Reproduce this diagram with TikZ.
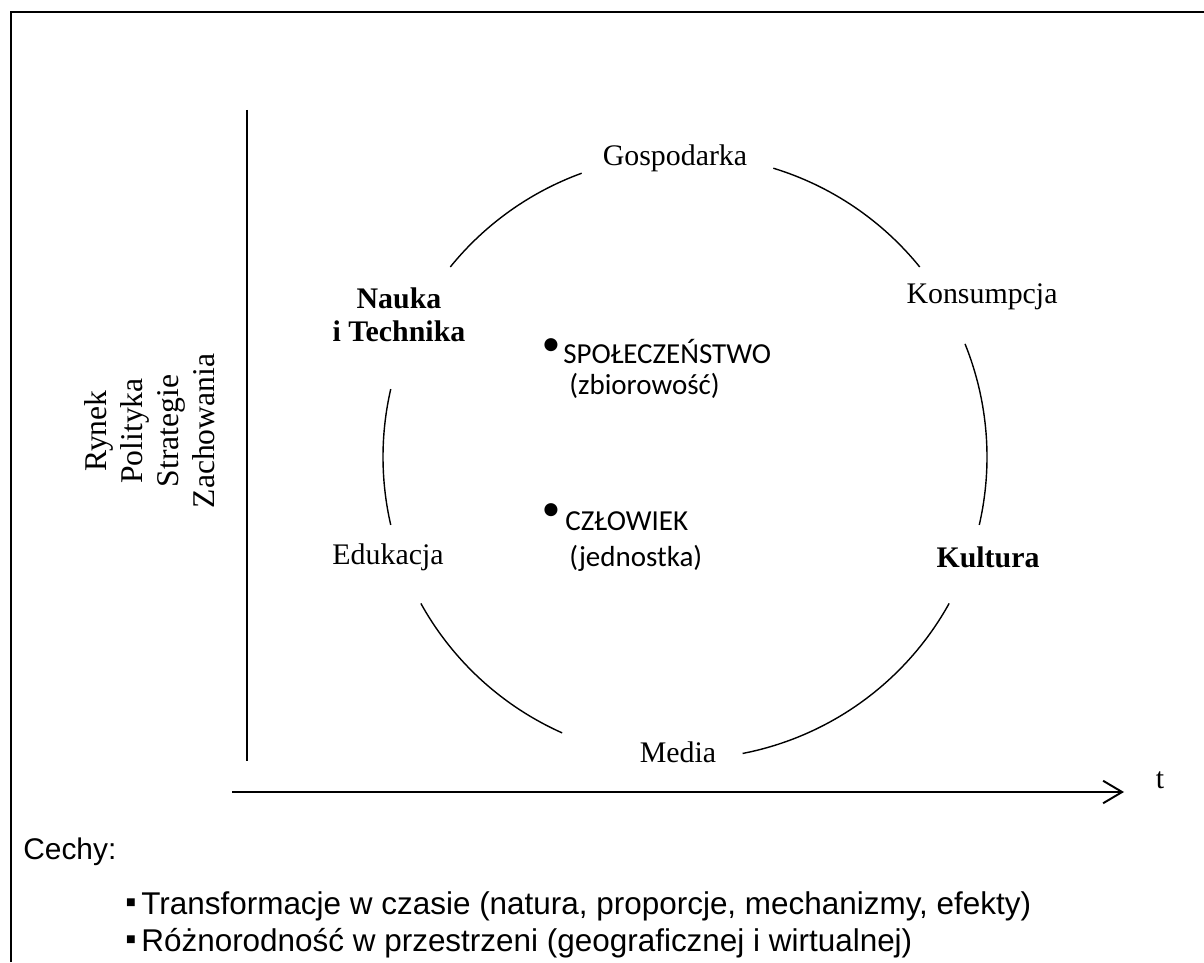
\documentclass[tikz,border=0pt]{standalone}
\usepackage{fontspec}
\setmainfont{Liberation Serif}
\setsansfont{Liberation Sans}
\newfontfamily\calibri{Carlito}
\usepackage{tikz}
\usetikzlibrary{arrows.meta, positioning}
\tikzstyle{arrow} = [line width=1.1pt,-{Straight Barb[length=0.38cm,width=0.45cm]}]
\tikzstyle{ring} = [line width=0.8pt]
\tikzstyle{lbl} = [font=\fontsize{17}{20.4}\selectfont, inner sep=0pt]
\tikzstyle{inner} = [font=\calibri\fontsize{16.5}{20}\selectfont, inner sep=0pt, anchor=west]
\tikzstyle{dot} = [font=\calibri\fontsize{21}{21}\selectfont, inner sep=0pt]
\tikzstyle{cechy} = [font=\sffamily\fontsize{17.9}{21}\selectfont, inner sep=0pt, anchor=west]

\begin{document}
\begin{tikzpicture}
        \useasboundingbox (0,0) rectangle (24.08,19.24);
        % frame
        \draw[line width=1.1pt] (0.22,0) -- (0.22,19.0) -- (24.08,19.0);

        % axes
        \coordinate (ytop) at (4.94,17.04);
        \coordinate (ybot) at (4.94,4.02);
        \coordinate (xl) at (4.64,3.40);
        \coordinate (xr) at (22.48,3.40);
        \draw[line width=1pt] (ytop) -- (ybot);
        \draw[arrow] (xl) -- (xr);
        \node[lbl] (t) at (23.2,3.64) {t};

        % ring
        \coordinate (c) at (13.7,10.1);
        \foreach \a/\b in {141/110, 73/39, 22/-13, 167/193, 209/246, 281/331}
          \draw[ring] ([shift={(\a:6.04)}]c) arc (\a:\b:6.04);

        % Node positions
        \node[lbl] (gosp) at (13.5,16.08) {Gospodarka};
        \node[lbl] (kons) at (19.64,13.3) {Konsumpcja};
        \node[lbl, font=\fontsize{17}{19}\selectfont\bfseries, align=center] (nauka) at (7.98,12.94) {Nauka\\i Technika};
        \node[lbl] (eduk) at (7.76,8.1) {Edukacja};
        \node[lbl, font=\fontsize{17}{19}\selectfont\bfseries] (kult) at (19.76,8.1) {Kultura};
        \node[lbl] (media) at (13.56,4.2) {Media};

        \node[lbl, font=\fontsize{18}{20.5}\selectfont, rotate=90, align=center] (rynek) at (3.0,10.62) {Rynek\\Polityka\\Strategie\\Zachowania};

        % centre
        \node[dot] (dot1) at (11.02,12.3) {•};
        \node[inner] (spol) at (11.26,12.22) {SPOŁECZEŃSTWO};
        \node[inner] (zbior) at (11.38,11.52) {(zbiorowość)};
        \node[dot] (dot2) at (11.02,9.0) {•};
        \node[inner] (czlow) at (11.3,8.82) {CZŁOWIEK};
        \node[inner] (jedn) at (11.38,8.08) {(jednostka)};

        % features
        \node[cechy, font=\sffamily\fontsize{17}{20}\selectfont] (cechy) at (0.46,2.2) {Cechy:};
        \node[cechy, anchor=center] (sq1) at (2.62,1.12) {▪};
        \node[cechy] (item1) at (2.82,1.12) {Transformacje w czasie (natura, proporcje, mechanizmy, efekty)};
        \node[cechy, anchor=center] (sq2) at (2.62,0.38) {▪};
        \node[cechy] (item2) at (2.82,0.38) {Różnorodność w przestrzeni (geograficznej i wirtualnej)};
\end{tikzpicture}
\end{document}
